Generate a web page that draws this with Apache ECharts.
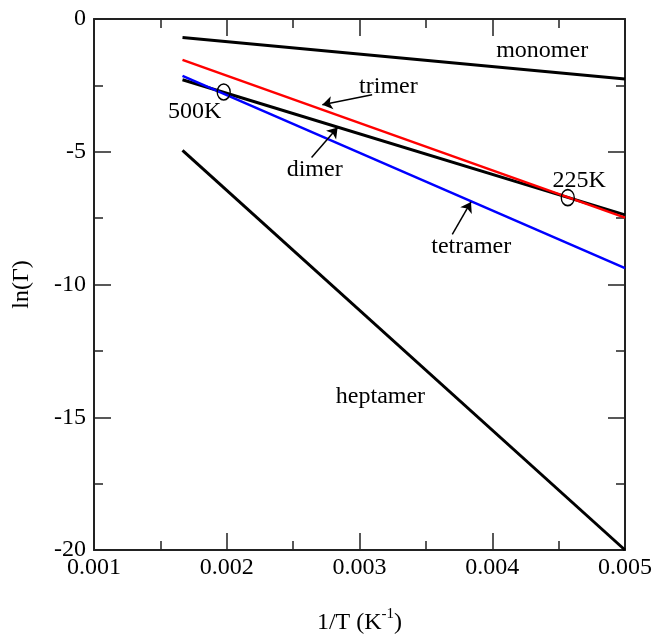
<!DOCTYPE html>
<html>
<head>
<meta charset="utf-8">
<script src="https://cdn.jsdelivr.net/npm/echarts@6/dist/echarts.min.js"></script>
<style>html,body{margin:0;padding:0;background:#fff}#c{width:655px;height:640px}</style>
</head>
<body>
<div id="c"></div>
<script>
// Data
const xStartEnd = [1/600, 0.005];
const monomer  = [-0.70, -2.26];
const dimer    = [-2.29, -7.38];
const trimer   = [-1.54, -7.48];
const tetramer = [-2.14, -9.38];
const heptamer = [-4.95, -20.0];

const circleX = [0.001977, 0.004569];
const circleY = [-2.75, -6.73];

const labelTexts = ['monomer', 'trimer', 'dimer', '500K', '225K', 'tetramer', 'heptamer'];
const labelX = [0.004376, 0.003218, 0.002662, 0.001759, 0.004654, 0.003842, 0.003158];
const labelY = [-1.20, -2.55, -5.67, -3.49, -6.08, -8.56, -14.22];

const arrowTailX = [0.003095, 0.002639, 0.003699];
const arrowTailY = [-2.85, -5.22, -8.11];
const arrowHeadX = [0.002720, 0.002835, 0.003840];
const arrowHeadY = [-3.23, -4.09, -6.89];

const xTicks = ['0.001', '0.002', '0.003', '0.004', '0.005'];

const FONT = '"Liberation Serif", "DejaVu Serif", serif';

function pairs(ys) { return xStartEnd.map((x, i) => [x, ys[i]]); }
function lineSeries(name, ys, color, w) {
  return { name, type: 'line', data: pairs(ys), symbol: 'none', silent: true,
    lineStyle: { color, width: w }, z: 3, animation: false };
}

const chart = echarts.init(document.getElementById('c'), null, { renderer: 'canvas' });
const axisLineStyle = { color: '#222', width: 2 };
const option = {
  animation: false,
  grid: { left: 94, right: 29, top: 19, bottom: 88 },
  xAxis: [{
    type: 'value', min: 0.001, max: 0.005, interval: 0.001,
    axisLine: { show: true, onZero: false, lineStyle: axisLineStyle },
    axisTick: { show: true, inside: true, length: 17, lineStyle: { color: '#222', width: 1.5 } },
    minorTick: { show: true, splitNumber: 2, length: 9, lineStyle: { color: '#222', width: 1.5 } },
    splitLine: { show: false },
    axisLabel: { fontFamily: FONT, fontSize: 24, color: '#000', margin: 6,
      formatter: v => { const i = Math.round((v - 0.001) / 0.001); return xTicks[i] !== undefined ? xTicks[i] : ''; } },
    name: '{a|1/T (K}{s|-1}{a|)}',
    nameLocation: 'middle', nameGap: 57,
    nameTextStyle: { rich: {
      a: { fontFamily: FONT, fontSize: 24, color: '#000', verticalAlign: 'bottom', lineHeight: 28 },
      s: { fontFamily: FONT, fontSize: 15, color: '#000', verticalAlign: 'top', lineHeight: 28, padding: [0, 0, 10, 0] } } }
  }, {
    type: 'value', position: 'top', min: 0.001, max: 0.005, interval: 0.001,
    axisLine: { show: true, onZero: false, lineStyle: axisLineStyle },
    axisTick: { show: true, inside: true, length: 17, lineStyle: { color: '#222', width: 1.5 } },
    minorTick: { show: true, splitNumber: 2, length: 9, lineStyle: { color: '#222', width: 1.5 } },
    splitLine: { show: false }, axisLabel: { show: false }
  }],
  yAxis: [{
    type: 'value', min: -20, max: 0, interval: 5,
    axisLine: { show: true, onZero: false, lineStyle: axisLineStyle },
    axisTick: { show: true, inside: true, length: 17, lineStyle: { color: '#222', width: 1.5 } },
    minorTick: { show: true, splitNumber: 2, length: 9, lineStyle: { color: '#222', width: 1.5 } },
    splitLine: { show: false },
    axisLabel: { fontFamily: FONT, fontSize: 24, color: '#000', margin: 8 },
    name: 'ln(Γ)', nameLocation: 'middle', nameGap: 60, nameRotate: 90,
    nameTextStyle: { fontFamily: FONT, fontSize: 24, color: '#000' }
  }, {
    type: 'value', position: 'right', min: -20, max: 0, interval: 5,
    axisLine: { show: true, onZero: false, lineStyle: axisLineStyle },
    axisTick: { show: true, inside: true, length: 17, lineStyle: { color: '#222', width: 1.5 } },
    minorTick: { show: true, splitNumber: 2, length: 9, lineStyle: { color: '#222', width: 1.5 } },
    splitLine: { show: false }, axisLabel: { show: false }
  }],
  series: [
    lineSeries('monomer', monomer, '#000', 3),
    lineSeries('dimer', dimer, '#000', 3),
    lineSeries('tetramer', tetramer, '#0000ff', 2.5),
    lineSeries('trimer', trimer, '#ff0000', 2.5),
    lineSeries('heptamer', heptamer, '#000', 3),
    {
      type: 'scatter', silent: true, z: 5,
      data: circleX.map((x, i) => [x, circleY[i]]),
      symbol: 'circle', symbolSize: [13, 16],
      itemStyle: { color: 'rgba(0,0,0,0)', borderColor: '#000', borderWidth: 1.5, opacity: 1 }
    },
    {
      type: 'scatter', silent: true, z: 6, symbolSize: 1,
      data: labelTexts.map((t, i) => ({ value: [labelX[i], labelY[i]], name: t })),
      itemStyle: { color: 'rgba(0,0,0,0)', opacity: 1 },
      label: { show: true, position: 'inside', formatter: p => p.name, opacity: 1,
        fontFamily: FONT, fontSize: 24, color: '#000', textBorderWidth: 0 }
    },
    {
      type: 'lines', coordinateSystem: 'cartesian2d', silent: true, z: 6,
      symbol: ['none', 'arrow'], symbolSize: 10,
      lineStyle: { color: '#000', width: 1.5, opacity: 1 },
      data: arrowTailX.map((x, i) => ({ coords: [[x, arrowTailY[i]], [arrowHeadX[i], arrowHeadY[i]]] }))
    }
  ]
};
chart.setOption(option);
</script>
</body>
</html>
